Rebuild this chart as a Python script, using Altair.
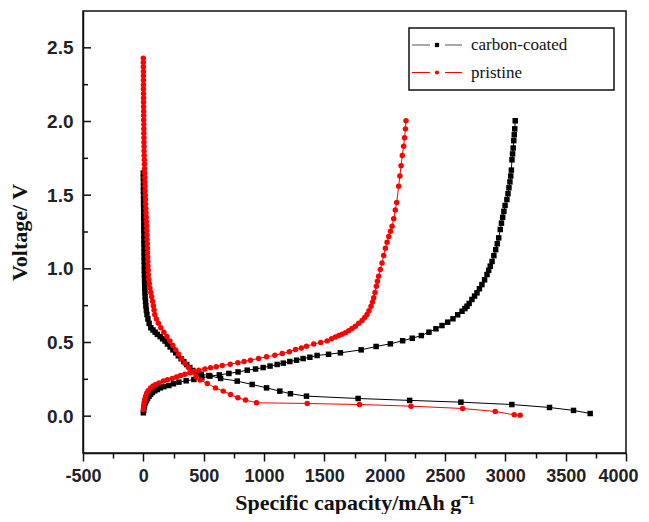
import altair as alt
import pandas as pd

series_names = ["carbon-coated", "pristine"]
series_colors = ["#000000", "#ff0000"]
series_shapes = ["square", "circle"]

# carbon-coated, discharge
cc_dis_y = [1.65, 1.62, 1.59, 1.56, 1.53, 1.50, 1.47, 1.44, 1.41, 1.38, 1.35, 1.32, 1.29, 1.26, 1.23, 1.20,
            1.17, 1.14, 1.11, 1.08, 1.05, 1.02, 0.99, 0.96, 0.93, 0.90, 0.87, 0.84, 0.81, 0.78, 0.75, 0.72,
            0.69, 0.66, 0.63, 0.60, 0.585, 0.57, 0.555, 0.54, 0.525, 0.51, 0.49, 0.47, 0.45, 0.43, 0.41,
            0.39, 0.37, 0.35, 0.33, 0.31, 0.295, 0.285, 0.276, 0.256, 0.238, 0.215, 0.192, 0.17, 0.152,
            0.136, 0.12, 0.107, 0.095, 0.079, 0.059, 0.039, 0.018]
cc_dis_x = [0, 0, 1, 1, 1, 2, 2, 2, 3, 3, 3, 4, 4, 4, 5, 5,
            5, 6, 6, 7, 7, 8, 8, 9, 10, 11, 12, 13, 15, 18, 21, 25,
            30, 38, 48, 62, 80, 98, 116, 140, 160, 180, 200, 222, 245, 268, 290,
            313, 336, 360, 385, 410, 440, 480, 543, 640, 778, 902, 1021, 1131, 1219,
            1352, 1780, 2207, 2632, 3054, 3366, 3565, 3703]

# carbon-coated, charge
cc_chg_x = [0, 3, 6, 10, 15, 20, 27, 35, 47, 60, 75, 95, 116, 140, 170, 212, 250, 295, 355, 419,
            485, 552, 630, 709, 785, 861, 930, 993, 1050, 1109, 1160, 1214, 1270, 1324, 1380, 1440,
            1535, 1633, 1805, 1929, 2047, 2149, 2229, 2304, 2367, 2425, 2475, 2522, 2566, 2605, 2641,
            2665, 2682, 2700, 2723, 2745, 2765, 2785, 2806, 2828, 2848, 2862, 2875, 2890, 2905, 2920,
            2933, 2945, 2958, 2968, 2978, 2988, 2998, 3013, 3022, 3030, 3038, 3045, 3050, 3055, 3060,
            3065, 3070, 3074, 3078, 3082]
cc_chg_y = [0.023, 0.04, 0.06, 0.075, 0.09, 0.10, 0.11, 0.12, 0.135, 0.148, 0.16, 0.172, 0.181, 0.192,
            0.20, 0.208, 0.22, 0.231, 0.24, 0.249, 0.26, 0.272, 0.28, 0.29, 0.30, 0.312, 0.32, 0.33,
            0.34, 0.351, 0.36, 0.371, 0.38, 0.391, 0.40, 0.412, 0.42, 0.43, 0.45, 0.473, 0.491, 0.512,
            0.529, 0.547, 0.57, 0.593, 0.615, 0.638, 0.661, 0.688, 0.712, 0.73, 0.746, 0.765, 0.792,
            0.815, 0.837, 0.865, 0.893, 0.925, 0.961, 0.99, 1.018, 1.05, 1.09, 1.13, 1.17, 1.21, 1.267,
            1.31, 1.35, 1.39, 1.43, 1.47, 1.51, 1.55, 1.59, 1.63, 1.67, 1.74, 1.78, 1.82, 1.87, 1.91,
            1.95, 2.005]

# pristine, discharge
pr_dis_y = [2.43, 2.40, 2.37, 2.34, 2.31, 2.28, 2.25, 2.22, 2.19, 2.16, 2.13, 2.10, 2.07, 2.04, 2.01,
            1.98, 1.95, 1.92, 1.89, 1.86, 1.83, 1.80, 1.77, 1.74, 1.71, 1.68, 1.65, 1.62, 1.59, 1.56,
            1.53, 1.50, 1.47, 1.44, 1.41, 1.38, 1.35, 1.32, 1.29, 1.26, 1.23, 1.20, 1.17, 1.14, 1.11,
            1.08, 1.05, 1.02, 0.99, 0.96, 0.93, 0.90, 0.87, 0.84, 0.81, 0.78, 0.75, 0.72, 0.69, 0.66,
            0.63, 0.60, 0.57, 0.54, 0.51, 0.48, 0.45, 0.42, 0.39, 0.36, 0.33, 0.30, 0.27, 0.245, 0.222,
            0.192, 0.17, 0.147, 0.125, 0.109, 0.091, 0.086, 0.079, 0.068, 0.052, 0.032, 0.009, 0.007]
pr_dis_x = [0, 0, 0, 1, 1, 1, 1, 1, 2, 2, 2, 2, 3, 3, 3,
            4, 4, 4, 5, 5, 6, 6, 7, 8, 9, 10, 11, 12, 13, 14,
            15, 16, 18, 19, 21, 22, 24, 25, 27, 28, 30, 31, 33, 34, 35,
            36, 37, 38, 40, 42, 45, 49, 55, 62, 69, 76, 83, 89, 95, 108,
            125, 145, 170, 195, 220, 245, 268, 292, 318, 345, 375, 405, 437, 470, 530,
            598, 662, 723, 783, 847, 938, 1358, 1791, 2218, 2646, 2916, 3074, 3123]

# pristine, charge
pr_chg_x = [0, 3, 7, 12, 19, 28, 40, 60, 80, 102, 130, 166, 200, 240, 275, 309, 345, 386, 420, 460,
            510, 557, 605, 654, 720, 783, 835, 888, 955, 1021, 1090, 1151, 1210, 1261, 1310, 1352, 1412,
            1470, 1523, 1560, 1592, 1620, 1647, 1675, 1702, 1730, 1757, 1785, 1813, 1835, 1854, 1870,
            1887, 1899, 1909, 1920, 1931, 1940, 1950, 1964, 1978, 1992, 2006, 2020, 2034, 2048, 2061,
            2075, 2088, 2100, 2116, 2126, 2136, 2146, 2157, 2165, 2172, 2177]
pr_chg_y = [0.045, 0.07, 0.095, 0.115, 0.136, 0.155, 0.172, 0.192, 0.205, 0.215, 0.226, 0.238, 0.247,
            0.256, 0.266, 0.276, 0.285, 0.294, 0.303, 0.312, 0.32, 0.328, 0.336, 0.344, 0.353, 0.362,
            0.371, 0.38, 0.392, 0.403, 0.414, 0.425, 0.438, 0.452, 0.463, 0.475, 0.49, 0.50, 0.511,
            0.525, 0.538, 0.547, 0.556, 0.567, 0.579, 0.595, 0.611, 0.63, 0.649, 0.67, 0.69, 0.715,
            0.746, 0.775, 0.803, 0.84, 0.882, 0.915, 0.95, 0.995, 1.04, 1.09, 1.14, 1.18, 1.22, 1.255,
            1.289, 1.34, 1.40, 1.45, 1.56, 1.63, 1.70, 1.77, 1.832, 1.89, 1.95, 2.005]

x_ticks = [-500, -250, 0, 250, 500, 750, 1000, 1250, 1500, 1750, 2000, 2250, 2500, 2750,
           3000, 3250, 3500, 3750, 4000]
y_major_ticks = [0.0, 0.5, 1.0, 1.5, 2.0, 2.5]
y_minor_ticks = [0.25, 0.75, 1.25, 1.75, 2.25]

x_title = "Specific capacity/mAh g\u207b\u00b9"
y_title = "Voltage/ V"

rows = []
def add(series, seg, xs, ys):
    for i, (x, y) in enumerate(zip(xs, ys)):
        rows.append({"series": series, "segment": series + "-" + seg, "idx": i, "cap": x, "volt": y})

add(series_names[0], "discharge", cc_dis_x, cc_dis_y)
add(series_names[0], "charge", cc_chg_x, cc_chg_y)
add(series_names[1], "discharge", pr_dis_x, pr_dis_y)
add(series_names[1], "charge", pr_chg_x, pr_chg_y)
df = pd.DataFrame(rows)

xscale = alt.Scale(domain=[-500, 4000], nice=False, zero=False)
yscale = alt.Scale(domain=[-0.25, 2.75], nice=False, zero=False)

label_font = "Liberation Sans"
title_font = "Liberation Serif"

x_axis = alt.Axis(
    values=x_ticks,
    labelExpr="datum.value % 500 == 0 ? '' + datum.value : ''",
    tickSize={"condition": {"test": "datum.value % 500 != 0", "value": 5}, "value": 8},
    labelOffset={"condition": {"test": "datum.value == 4000", "value": -8}, "value": 0},
    tickColor="#111", tickWidth=1.5, domainColor="#111", domainWidth=1.5,
    labelFont=label_font, labelFontWeight="bold", labelFontSize=18, labelColor="#222",
    labelPadding=6, labelOverlap=False, labelFlush=False, grid=False,
    titleFont=title_font, titleFontSize=22, titleFontWeight="bold", titleColor="#111",
    titleBaseline="alphabetic", titleY=56,
)
y_axis = alt.Axis(
    values=y_major_ticks, format=".1f", ticks=False,
    domainColor="#111", domainWidth=1.5,
    labelFont=label_font, labelFontWeight="bold", labelFontSize=19, labelColor="#222",
    labelPadding=10, labelOverlap=False, labelFlush=False, grid=False,
    titleFont=title_font, titleFontSize=22, titleFontWeight="bold", titleColor="#111",
    titleBaseline="middle", titleX=-64,
)

def X(field):
    return alt.X(field, scale=xscale, axis=x_axis, title=x_title)

def Y(field):
    return alt.Y(field, scale=yscale, axis=y_axis, title=y_title)

color = alt.Color("series:N", scale=alt.Scale(domain=series_names, range=series_colors), legend=None)
shape = alt.Shape("series:N", scale=alt.Scale(domain=series_names, range=series_shapes), legend=None)

base = alt.Chart(df)
lines = base.mark_line(strokeWidth=1).encode(
    x=X("cap:Q"), y=Y("volt:Q"), color=color, detail="segment:N", order="idx:Q",
)
points = base.mark_point(filled=True, size=30, opacity=1).encode(
    x=X("cap:Q"), y=Y("volt:Q"), color=color, shape=shape,
)

ymaj = alt.Chart(pd.DataFrame({"volt": y_major_ticks})).mark_rule(color="#111", strokeWidth=1.5).encode(
    x=alt.value(0), x2=alt.value(8), y=Y("volt:Q"))
ymin = alt.Chart(pd.DataFrame({"volt": y_minor_ticks})).mark_rule(color="#111", strokeWidth=1.5).encode(
    x=alt.value(0), x2=alt.value(5), y=Y("volt:Q"))

# legend box
one = pd.DataFrame({"a": [0]})
leg_box = alt.Chart(one).mark_rect(fill="white", stroke="#111", strokeWidth=1.5).encode(
    x=alt.value(326), x2=alt.value(531), y=alt.value(17), y2=alt.value(79))
leg_items = []
for i, (name, col, shp) in enumerate(zip(series_names, series_colors, series_shapes)):
    yy = 34 + i * 27.5
    lc = "#555" if i == 0 else col
    leg_items.append(alt.Chart(one).mark_rule(color=lc, strokeWidth=1).encode(
        x=alt.value(329), x2=alt.value(347), y=alt.value(yy)))
    leg_items.append(alt.Chart(one).mark_rule(color=lc, strokeWidth=1).encode(
        x=alt.value(362), x2=alt.value(379), y=alt.value(yy)))
    leg_items.append(alt.Chart(one).mark_point(shape=shp, filled=True, size=18, color=col, opacity=1).encode(
        x=alt.value(354), y=alt.value(yy)))
    leg_items.append(alt.Chart(one).mark_text(font=title_font, fontSize=17, align="left",
                                               baseline="middle", color="#111").encode(
        x=alt.value(388), y=alt.value(yy), text=alt.value(name)))

chart = alt.layer(lines, points, ymaj, ymin, leg_box, *leg_items).properties(
    width=543, height=442,
    background="white",
    autosize=alt.AutoSizeParams(type="none"),
    padding={"left": 75, "top": 3, "right": 15, "bottom": 61},
).configure_view(stroke="#111", strokeWidth=1.5)

chart.save("out.html", embed_options={"renderer": "svg", "actions": False})
